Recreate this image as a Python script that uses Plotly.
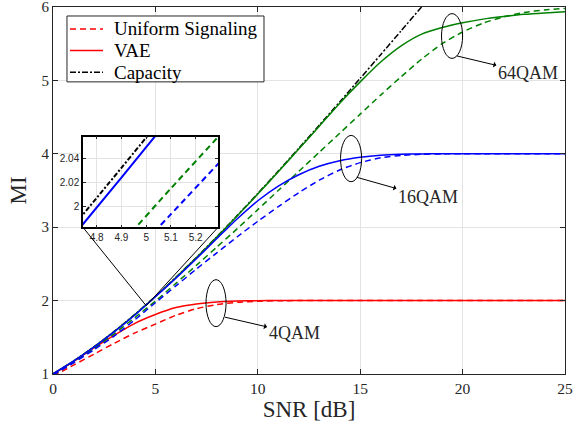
import plotly.graph_objects as go

# ---------------- data ----------------
snr = list(range(0, 26))
snr_cap = list(range(0, 20))
capacity = [1.0, 1.176, 1.370, 1.583, 1.812, 2.057, 2.317, 2.588, 2.870, 3.161,
            3.459, 3.764, 4.075, 4.389, 4.707, 5.028, 5.351, 5.676, 6.002, 6.33]

qam4_uniform = [0.972, 1.12, 1.27, 1.42, 1.56, 1.68, 1.80, 1.89, 1.945, 1.977,
                1.992, 1.998, 2.0, 2.0, 2.0, 2.0, 2.0, 2.0, 2.0, 2.0,
                2.0, 2.0, 2.0, 2.0, 2.0, 2.0]
qam4_vae = [1.0, 1.17, 1.355, 1.53, 1.69, 1.81, 1.905, 1.955, 1.982, 1.994,
            1.999, 2.0, 2.0, 2.0, 2.0, 2.0, 2.0, 2.0, 2.0, 2.0,
            2.0, 2.0, 2.0, 2.0, 2.0, 2.0]

qam16_uniform = [0.985, 1.15, 1.33, 1.52, 1.74, 1.971, 2.20, 2.43, 2.65, 2.87,
                 3.08, 3.28, 3.47, 3.64, 3.78, 3.88, 3.945, 3.978, 3.993, 3.999,
                 4.0, 4.0, 4.0, 4.0, 4.0, 4.0]
qam16_vae = [1.0, 1.174, 1.366, 1.577, 1.804, 2.052, 2.305, 2.57, 2.845, 3.115,
             3.36, 3.56, 3.715, 3.83, 3.905, 3.952, 3.98, 3.993, 3.998, 4.0,
             4.0, 4.0, 4.0, 4.0, 4.0, 4.0]

qam64_uniform = [0.985, 1.155, 1.345, 1.55, 1.77, 1.992, 2.235, 2.48, 2.73, 2.98,
                 3.24, 3.50, 3.76, 4.02, 4.28, 4.54, 4.80, 5.05, 5.29, 5.50,
                 5.66, 5.78, 5.865, 5.925, 5.96, 5.98]
qam64_vae = [1.0, 1.175, 1.369, 1.581, 1.81, 2.055, 2.314, 2.584, 2.865, 3.155,
             3.452, 3.756, 4.065, 4.375, 4.69, 4.98, 5.25, 5.47, 5.63, 5.72,
             5.785, 5.835, 5.87, 5.90, 5.92, 5.935]

# zoomed region (inset)
snr_zoom = [4.7, 4.9, 5.1, 5.3, 5.4]
capacity_zoom = [1.982, 2.032, 2.0827, 2.1336, 2.159]
qam16_vae_zoom = [1.974, 2.024, 2.0745, 2.125, 2.150]
qam64_uniform_zoom = [1.923, 1.969, 2.015, 2.060, 2.083]
qam16_uniform_zoom = [1.9055, 1.9495, 1.9935, 2.0375, 2.0595]

x_ticks = [0, 5, 10, 15, 20, 25]
y_ticks = [1, 2, 3, 4, 5, 6]
zoom_x_ticks = [4.8, 4.9, 5.0, 5.1, 5.2]
zoom_x_labels = ["4.8", "4.9", "5", "5.1", "5.2"]
zoom_y_ticks = [2.0, 2.02, 2.04]
zoom_y_labels = ["2", "2.02", "2.04"]

legend_labels = ["Uniform Signaling", "VAE", "Capacity"]

RED, BLUE, GREEN = "#ff0000", "#0000ff", "#008000"
DASH = "6px,4px"
DASHDOT = "6px,2px,2px,2px"
SERIF = "Liberation Serif"
SANS = "Liberation Sans"
AX = "#262626"
legend_styles = [(RED, DASH), (RED, "solid"), ("black", DASHDOT)]

fig = go.Figure()

def add(x, y, color, dash, xa="x", ya="y", w=1.5):
    fig.add_trace(go.Scatter(x=x, y=y, mode="lines", xaxis=xa, yaxis=ya,
                             line=dict(color=color, width=w, dash=dash, shape="spline",
                                       smoothing=0.6),
                             showlegend=False, hoverinfo="skip"))

# main curves
add(snr_cap, capacity, "black", DASHDOT)
add(snr, qam4_uniform, RED, DASH)
add(snr, qam4_vae, RED, "solid")
add(snr, qam64_uniform, GREEN, DASH)
add(snr, qam64_vae, GREEN, "solid")
add(snr, qam16_uniform, BLUE, DASH)
add(snr, qam16_vae, BLUE, "solid")

# inset curves
add(snr_zoom, capacity_zoom, "black", "5px,2px,2px,2px", "x2", "y2", 2)
add(snr_zoom, qam64_uniform_zoom, GREEN, DASH, "x2", "y2", 2)
add(snr_zoom, qam16_uniform_zoom, BLUE, DASH, "x2", "y2", 2)
add(snr_zoom, qam16_vae_zoom, BLUE, "solid", "x2", "y2", 2)

X_MIN, X_MAX, Y_MIN, Y_MAX = 0, 25, 1, 6
inset_xd = [0.0586, 0.3223]
inset_yd = [0.3995, 0.6467]

shapes = []
annotations = []

# legend box (drawn manually to match the compact MATLAB legend)
shapes.append(dict(type="rect", xref="paper", yref="paper", x0=0.0273, x1=0.4121,
                   y0=0.796, y1=0.9755, fillcolor="white",
                   line=dict(color=AX, width=1), layer="above"))
for i, (label, (color, dash)) in enumerate(zip(legend_labels, legend_styles)):
    yy = 0.9402 - i * 0.0590
    shapes.append(dict(type="line", xref="paper", yref="paper", x0=0.0332, x1=0.0977,
                       y0=yy, y1=yy, line=dict(color=color, width=1.5, dash=dash),
                       layer="above"))
    annotations.append(dict(x=0.1152, y=yy, xref="paper", yref="paper", text=label,
                            showarrow=False, xanchor="left", yanchor="middle",
                            font=dict(family=SERIF, size=19, color="black")))

# connector lines from inset corners to the zoomed point
zx, zy = 4.55, 1.93
for px in inset_xd:
    shapes.append(dict(type="line", xref="x", yref="y",
                       x0=X_MIN + px * (X_MAX - X_MIN), y0=Y_MIN + inset_yd[0] * (Y_MAX - Y_MIN),
                       x1=zx, y1=zy, line=dict(color="black", width=1)))
# ellipses
for (x0, x1, y0, y1) in [(7.47, 8.45, 1.645, 2.285), (14.04, 15.07, 3.62, 4.25),
                         (18.97, 20.0, 5.30, 5.91)]:
    shapes.append(dict(type="circle", xref="x", yref="y", x0=x0, x1=x1, y0=y0, y1=y1,
                       line=dict(color="black", width=1)))

for text, (ex, ey), (lx, ly) in [("4QAM", (8.40, 1.774), (11.77, 1.557)),
                                 ("16QAM", (14.83, 3.68), (18.31, 3.405)),
                                 ("64QAM", (19.71, 5.334), (23.19, 5.103))]:
    annotations.append(dict(x=ex, y=ey, ax=lx, ay=ly, xref="x", yref="y",
                            axref="x", ayref="y", text=text, showarrow=True,
                            arrowside="start", arrowhead=2, arrowsize=1.6,
                            arrowwidth=1, arrowcolor="black", standoff=0,
                            startstandoff=0,
                            font=dict(family=SERIF, size=18, color=AX)))

fig.update_layout(
    width=583, height=427,
    margin=dict(l=53, r=18, t=7, b=53),
    paper_bgcolor="white", plot_bgcolor="white",
    font=dict(family=SERIF, color=AX),
    showlegend=False,
    shapes=shapes, annotations=annotations,
    xaxis=dict(range=[X_MIN, X_MAX], tickvals=x_ticks, showgrid=True, gridcolor="#e3e3e3",
               zeroline=False, showline=True, linecolor=AX, linewidth=1, mirror="ticks",
               ticks="inside", ticklen=5, tickcolor=AX, automargin=False,
               ticklabeloverflow="allow",
               tickfont=dict(family=SERIF, size=15.5, color=AX),
               title=dict(text="SNR [dB]", font=dict(family=SERIF, size=23, color=AX),
                          standoff=4)),
    yaxis=dict(range=[Y_MIN - 0.0001, Y_MAX + 0.0001], tickvals=y_ticks, showgrid=True,
               gridcolor="#e3e3e3",
               zeroline=False, showline=True, linecolor=AX, linewidth=1, mirror="ticks",
               ticks="inside", ticklen=5, tickcolor=AX, automargin=False,
               ticklabeloverflow="allow",
               tickfont=dict(family=SERIF, size=15, color=AX),
               title=dict(text="MI", font=dict(family=SERIF, size=23, color=AX),
                          standoff=8)),
    xaxis2=dict(domain=inset_xd, anchor="y2", range=[4.745, 5.29],
                tickvals=zoom_x_ticks, ticktext=zoom_x_labels,
                showgrid=True, gridcolor="#e3e3e3", zeroline=False,
                showline=True, linecolor="black", linewidth=1.5, mirror="ticks",
                ticks="inside", ticklen=3, tickcolor=AX, automargin=False,
                tickfont=dict(family=SANS, size=10, color=AX)),
    yaxis2=dict(domain=inset_yd, anchor="x2", range=[1.9825, 2.058],
                tickvals=zoom_y_ticks, ticktext=zoom_y_labels,
                showgrid=True, gridcolor="#e3e3e3", zeroline=False,
                showline=True, linecolor="black", linewidth=1.5, mirror="ticks",
                ticks="inside", ticklen=3, tickcolor=AX, automargin=False,
                tickfont=dict(family=SANS, size=10, color=AX)),
)

fig.write_html("out.html", config={"displayModeBar": False},
               post_script="document.body.style.margin='0';")
